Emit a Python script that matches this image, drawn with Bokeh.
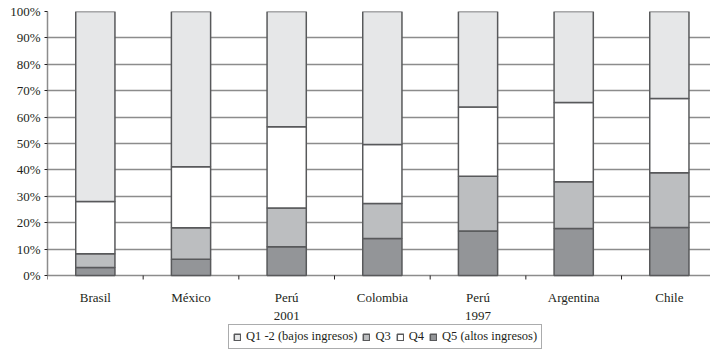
from bokeh.plotting import figure
from bokeh.models import (Range1d, FixedTicker, PrintfTickFormatter, Legend, LegendItem)
from bokeh.core.properties import value
from bokeh.embed import file_html
from bokeh.resources import INLINE

# Income distribution by quintile (% of total), per country
countries = ["Brasil", "México", "Perú\n2001", "Colombia", "Perú\n1997", "Argentina", "Chile"]
q5 = [3.0, 6.2, 10.9, 14.0, 16.9, 17.8, 18.2]          # Q5 (altos ingresos)
q3 = [5.2, 11.9, 14.7, 13.3, 20.7, 17.7, 20.7]         # Q3
q4 = [19.8, 23.1, 30.7, 22.3, 26.2, 30.0, 28.1]        # Q4
q12 = [72.0, 58.8, 43.7, 50.4, 36.2, 34.5, 33.0]       # Q1 -2 (bajos ingresos)
y_ticks = list(range(0, 101, 10))

labels = ["Q1 -2 (bajos ingresos)", "Q3", "Q4", "Q5 (altos ingresos)"]
colors = {"q5": "#939598", "q3": "#bcbec0", "q4": "#ffffff", "q12": "#e6e7e8"}

n = len(countries)
x = [i + 0.5 for i in range(n)]
bounds = list(range(n + 1))
source = dict(x=x, q5=q5, q3=q3, q4=q4, q12=q12)

FONT = "Liberation Serif"
EDGE = "#58595b"
GRID = "#8c8c8c"
INK = "#231f20"

# the frame reaches the bottom edge so the category names and the legend
# can sit underneath the 0% line
PX_PER_PCT = 2.64
p = figure(width=710, height=351, output_backend="svg", toolbar_location=None,
           x_range=Range1d(0, 6.93), y_range=Range1d(-76 / PX_PER_PCT, 100),
           x_axis_location=None,
           min_border_left=47, min_border_right=0, min_border_top=11,
           min_border_bottom=0)
p.outline_line_color = None
p.background_fill_color = "white"
p.border_fill_color = "white"
p.xgrid.grid_line_color = None

stack = ["q5", "q3", "q4", "q12"]
renderers = p.vbar_stack(stack, x="x", width=0.41, source=source,
                         fill_color=[colors[s] for s in stack],
                         line_color=EDGE, line_width=1.5)

# y axis in percent, limited to 0-100
p.yaxis.ticker = FixedTicker(ticks=y_ticks)
p.yaxis.bounds = (0, 100)
p.yaxis.formatter = PrintfTickFormatter(format="%d%%")
p.yaxis.major_tick_out = 3
p.yaxis.major_tick_in = 0
p.yaxis.minor_tick_line_color = None
p.yaxis.major_tick_line_color = INK
p.yaxis.axis_line_color = GRID
p.yaxis.axis_line_width = 1.5
p.yaxis.major_label_standoff = 4
p.yaxis.major_label_text_font = FONT
p.yaxis.major_label_text_font_size = "13px"
p.yaxis.major_label_text_color = INK
p.ygrid.ticker = FixedTicker(ticks=y_ticks)
p.ygrid.grid_line_color = GRID
p.ygrid.grid_line_width = 1.5

# category separators below the 0% line
p.segment(x0=bounds, y0=[0] * len(bounds), x1=bounds,
          y1=[-4 / PX_PER_PCT] * len(bounds), line_color=INK, line_width=1)

# category names
p.text(x=x, y=[-14 / PX_PER_PCT] * n, text=countries,
       text_font=value(FONT), text_font_size="13px", text_color=INK,
       text_align="center", text_baseline="top", text_line_height=1.2)

by_key = dict(zip(stack, renderers))
legend = Legend(items=[LegendItem(label=labels[0], renderers=[by_key["q12"]]),
                       LegendItem(label=labels[1], renderers=[by_key["q3"]]),
                       LegendItem(label=labels[2], renderers=[by_key["q4"]]),
                       LegendItem(label=labels[3], renderers=[by_key["q5"]])],
                orientation="horizontal", location=(181, 2))
legend.label_text_font = FONT
legend.label_text_font_size = "12.5px"
legend.label_text_color = INK
legend.glyph_width = 8
legend.glyph_height = 8
legend.label_height = 13
legend.label_width = 1
legend.label_standoff = 5
legend.spacing = 5
legend.padding = 4
legend.margin = 0
legend.border_line_color = EDGE
legend.border_line_width = 1
legend.background_fill_color = "white"
legend.background_fill_alpha = 1
p.add_layout(legend)

open("out.html", "w").write(file_html(p, INLINE))
